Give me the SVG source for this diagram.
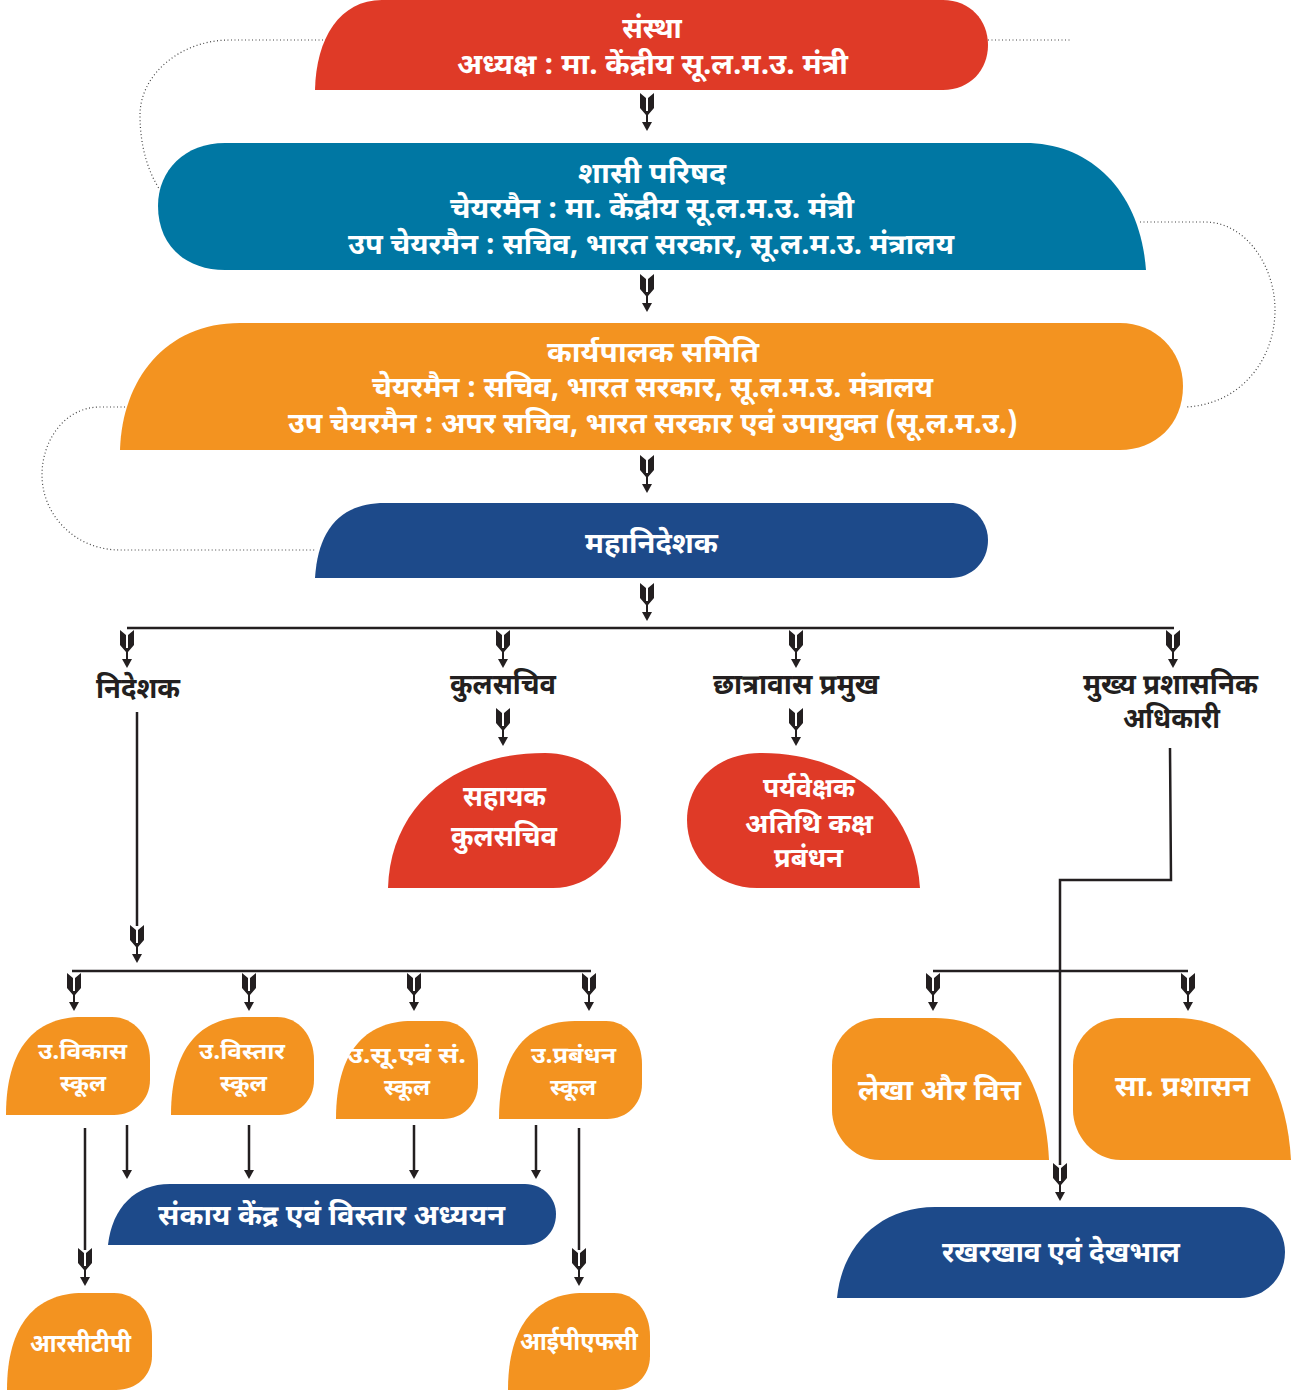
<svg xmlns="http://www.w3.org/2000/svg" xmlns:xlink="http://www.w3.org/1999/xlink" width="1301" height="1393" viewBox="0 0 1301 1393">
<style>
.t{font-family:"Noto Sans Devanagari","Noto Sans","Lohit Devanagari",sans-serif;font-weight:700;fill:#fff}
.d{font-family:"Noto Sans Devanagari","Noto Sans","Lohit Devanagari",sans-serif;font-weight:700;fill:#231f20}
.red{fill:#df3a27}.teal{fill:#0077a3}.org{fill:#f39320}.blue{fill:#1d4a8a}
.ln{fill:none;stroke:#231f20;stroke-width:2.5}
.dot{fill:none;stroke:#444;stroke-width:1.2;stroke-dasharray:1 2.5}
</style>
<defs>
<g id="fa">
<path d="M-7,0 L-1,5 L-1,22 L-7,15 Z M7,0 L1,5 L1,22 L7,15 Z" fill="#231f20"/>
<path d="M0,18 L0,31" stroke="#231f20" stroke-width="2"/>
<path d="M-5,29 L5,29 L0,38 Z" fill="#231f20"/>
</g>
<path id="ah" d="M-5,-9 L5,-9 L0,0 Z" fill="#231f20"/>
</defs>

<g id="connectors">
<path class="dot" d="M330,40 L230,40 C180,40 140,75 140,115 C140,150 150,175 160,190"/>
<path class="dot" d="M988,40 L1072,40"/>
<path class="dot" d="M1140,222 L1205,222 C1245,222 1275,265 1275,310 C1275,360 1240,405 1185,407"/>
<path class="dot" d="M125,407 L100,407 C65,407 42,440 42,475 C42,515 75,550 120,550 L315,550"/>
<use xlink:href="#fa" x="647" y="93"/>
<use xlink:href="#fa" x="647" y="274"/>
<use xlink:href="#fa" x="647" y="455"/>
<use xlink:href="#fa" x="647" y="583"/>
<path class="ln" d="M127,628 L1174,628"/>
<use xlink:href="#fa" x="127" y="630"/>
<use xlink:href="#fa" x="503" y="630"/>
<use xlink:href="#fa" x="796" y="630"/>
<use xlink:href="#fa" x="1173" y="630"/>
<use xlink:href="#fa" x="503" y="708"/>
<use xlink:href="#fa" x="796" y="708"/>
<path class="ln" d="M137,712 L137,926"/>
<use xlink:href="#fa" x="137" y="925"/>
<path class="ln" d="M72,971 L591,971"/>
<use xlink:href="#fa" x="74" y="973"/>
<use xlink:href="#fa" x="249" y="973"/>
<use xlink:href="#fa" x="414" y="973"/>
<use xlink:href="#fa" x="589" y="973"/>
<path class="ln" d="M1170,748 L1171,880 L1060,880 L1060,1165"/>
<use xlink:href="#fa" x="1060" y="1163"/>
<path class="ln" d="M933,971 L1188,971"/>
<use xlink:href="#fa" x="933" y="973"/>
<use xlink:href="#fa" x="1188" y="973"/>
<path class="ln" d="M85,1128 L85,1250 M579,1128 L579,1250 M127,1125 L127,1172 M249,1125 L249,1172 M414,1125 L414,1172 M536,1125 L536,1172"/>
<use xlink:href="#fa" x="85" y="1248"/>
<use xlink:href="#fa" x="579" y="1248"/>
<use xlink:href="#ah" x="127" y="1179"/>
<use xlink:href="#ah" x="249" y="1179"/>
<use xlink:href="#ah" x="414" y="1179"/>
<use xlink:href="#ah" x="536" y="1179"/>
</g>

<g id="sanstha">
<path class="red" d="M315,90 C316,38 340,0 382,0 L943,0 C970,0 988,20 988,45 C988,70 970,90 943,90 Z"/>
<text class="t" x="652" y="38" font-size="28" text-anchor="middle">संस्था</text>
<text class="t" x="457" y="74" font-size="28" textLength="391" lengthAdjust="spacingAndGlyphs">अध्यक्ष : मा. केंद्रीय सू.ल.म.उ. मंत्री</text>
</g>

<g id="shasi">
<path class="teal" d="M225,143 L1025,143 C1090,143 1140,190 1146,270 L225,270 C185,270 158,245 158,206 C158,170 185,143 225,143 Z"/>
<text class="t" x="578" y="183" font-size="28" textLength="148" lengthAdjust="spacingAndGlyphs">शासी परिषद</text>
<text class="t" x="450" y="218" font-size="28" textLength="404" lengthAdjust="spacingAndGlyphs">चेयरमैन : मा. केंद्रीय सू.ल.म.उ. मंत्री</text>
<text class="t" x="348" y="254" font-size="28" textLength="606" lengthAdjust="spacingAndGlyphs">उप चेयरमैन : सचिव, भारत सरकार, सू.ल.म.उ. मंत्रालय</text>
</g>

<g id="karyapalak">
<path class="org" d="M120,450 C122,380 165,323 240,323 L1120,323 C1155,323 1183,350 1183,386 C1183,425 1155,450 1120,450 Z"/>
<text class="t" x="547" y="362" font-size="28" textLength="212" lengthAdjust="spacingAndGlyphs">कार्यपालक समिति</text>
<text class="t" x="372" y="397" font-size="28" textLength="561" lengthAdjust="spacingAndGlyphs">चेयरमैन : सचिव, भारत सरकार, सू.ल.म.उ. मंत्रालय</text>
<text class="t" x="288" y="433" font-size="28" textLength="730" lengthAdjust="spacingAndGlyphs">उप चेयरमैन : अपर सचिव, भारत सरकार एवं उपायुक्त (सू.ल.म.उ.)</text>
</g>

<g id="mahanideshak">
<path class="blue" d="M315,578 C318,530 340,503 385,503 L950,503 C972,503 988,520 988,540 C988,562 972,578 950,578 Z"/>
<text class="t" x="585" y="553" font-size="28" textLength="133" lengthAdjust="spacingAndGlyphs">महानिदेशक</text>
</g>

<g id="nideshak"><text class="d" x="96" y="698" font-size="28" textLength="84" lengthAdjust="spacingAndGlyphs">निदेशक</text></g>
<g id="kulsachiv"><text class="d" x="450" y="694" font-size="28" textLength="106" lengthAdjust="spacingAndGlyphs">कुलसचिव</text></g>
<g id="chhatravas"><text class="d" x="713" y="694" font-size="28" textLength="166" lengthAdjust="spacingAndGlyphs">छात्रावास प्रमुख</text></g>
<g id="mukhya">
<text class="d" x="1083" y="694" font-size="28" textLength="175" lengthAdjust="spacingAndGlyphs">मुख्य प्रशासनिक</text>
<text class="d" x="1123" y="728" font-size="28" textLength="97" lengthAdjust="spacingAndGlyphs">अधिकारी</text>
</g>

<g id="sahayak">
<path class="red" d="M388,888 C390,810 450,753 545,753 C590,753 621,785 621,820 C621,858 590,888 553,888 Z"/>
<text class="t" x="463" y="806" font-size="28" textLength="83" lengthAdjust="spacingAndGlyphs">सहायक</text>
<text class="t" x="451" y="846" font-size="28" textLength="106" lengthAdjust="spacingAndGlyphs">कुलसचिव</text>
</g>

<g id="paryavekshak">
<path class="red" d="M760,753 C855,753 915,810 920,888 L757,888 C717,888 687,858 687,820 C687,783 717,753 760,753 Z"/>
<text class="t" x="763" y="797" font-size="27" textLength="92" lengthAdjust="spacingAndGlyphs">पर्यवेक्षक</text>
<text class="t" x="745" y="833" font-size="27" textLength="128" lengthAdjust="spacingAndGlyphs">अतिथि कक्ष</text>
<text class="t" x="774" y="867" font-size="27" textLength="69" lengthAdjust="spacingAndGlyphs">प्रबंधन</text>
</g>

<g id="vikas">
<path class="org" d="M6,1115 C6,1048 35,1017 82,1017 L112,1017 C134,1017 150,1036 150,1060 L150,1080 C150,1100 134,1115 114,1115 Z"/>
<text class="t" x="38" y="1059" font-size="23" textLength="89" lengthAdjust="spacingAndGlyphs">उ.विकास</text>
<text class="t" x="60" y="1091" font-size="23" textLength="46" lengthAdjust="spacingAndGlyphs">स्कूल</text>
</g>
<g id="vistar">
<path class="org" d="M171,1115 C171,1048 200,1017 247,1017 L277,1017 C299,1017 314,1036 314,1060 L314,1080 C314,1100 299,1115 279,1115 Z"/>
<text class="t" x="199" y="1059" font-size="23" textLength="86" lengthAdjust="spacingAndGlyphs">उ.विस्तार</text>
<text class="t" x="220" y="1091" font-size="23" textLength="47" lengthAdjust="spacingAndGlyphs">स्कूल</text>
</g>
<g id="susan">
<path class="org" d="M336,1119 C336,1052 365,1021 412,1021 L442,1021 C463,1021 478,1040 478,1064 L478,1084 C478,1104 463,1119 443,1119 Z"/>
<text class="t" x="347" y="1063" font-size="23" textLength="119" lengthAdjust="spacingAndGlyphs">उ.सू.एवं सं.</text>
<text class="t" x="384" y="1095" font-size="23" textLength="46" lengthAdjust="spacingAndGlyphs">स्कूल</text>
</g>
<g id="prabandhan">
<path class="org" d="M499,1119 C499,1052 528,1021 575,1021 L606,1021 C627,1021 642,1040 642,1064 L642,1084 C642,1104 627,1119 607,1119 Z"/>
<text class="t" x="531" y="1063" font-size="23" textLength="85" lengthAdjust="spacingAndGlyphs">उ.प्रबंधन</text>
<text class="t" x="550" y="1095" font-size="23" textLength="46" lengthAdjust="spacingAndGlyphs">स्कूल</text>
</g>

<g id="sankay">
<path class="blue" d="M108,1245 C112,1208 135,1184 170,1184 L525,1184 C543,1184 556,1198 556,1214 C556,1232 543,1245 525,1245 Z"/>
<text class="t" x="158" y="1225" font-size="28" textLength="347" lengthAdjust="spacingAndGlyphs">संकाय केंद्र एवं विस्तार अध्ययन</text>
</g>

<g id="rctp">
<path class="org" d="M7,1390 C7,1324 36,1293 83,1293 L114,1293 C136,1293 152,1312 152,1336 L152,1356 C152,1376 136,1390 116,1390 Z"/>
<text class="t" x="30" y="1352" font-size="26" textLength="101" lengthAdjust="spacingAndGlyphs">आरसीटीपी</text>
</g>
<g id="ipfc">
<path class="org" d="M508,1390 C508,1324 537,1293 584,1293 L614,1293 C635,1293 650,1312 650,1336 L650,1356 C650,1376 635,1390 615,1390 Z"/>
<text class="t" x="520" y="1350" font-size="26" textLength="118" lengthAdjust="spacingAndGlyphs">आईपीएफसी</text>
</g>

<g id="lekha">
<path class="org" d="M880,1018 L935,1018 C1000,1018 1045,1070 1049,1160 L880,1160 C852,1160 832,1135 832,1110 L832,1065 C832,1040 852,1018 880,1018 Z"/>
<text class="t" x="858" y="1100" font-size="28" textLength="163" lengthAdjust="spacingAndGlyphs">लेखा और वित्त</text>
</g>
<g id="saprashasan">
<path class="org" d="M1121,1018 L1176,1018 C1241,1018 1286,1070 1291,1160 L1121,1160 C1093,1160 1073,1135 1073,1110 L1073,1065 C1073,1040 1093,1018 1121,1018 Z"/>
<text class="t" x="1115" y="1096" font-size="28" textLength="135" lengthAdjust="spacingAndGlyphs">सा. प्रशासन</text>
</g>

<g id="rakhrakhav">
<path class="blue" d="M837,1298 C842,1245 880,1207 935,1207 L1240,1207 C1265,1207 1285,1228 1285,1252 C1285,1278 1265,1298 1240,1298 Z"/>
<text class="t" x="942" y="1262" font-size="28" textLength="238" lengthAdjust="spacingAndGlyphs">रखरखाव एवं देखभाल</text>
</g>
</svg>
